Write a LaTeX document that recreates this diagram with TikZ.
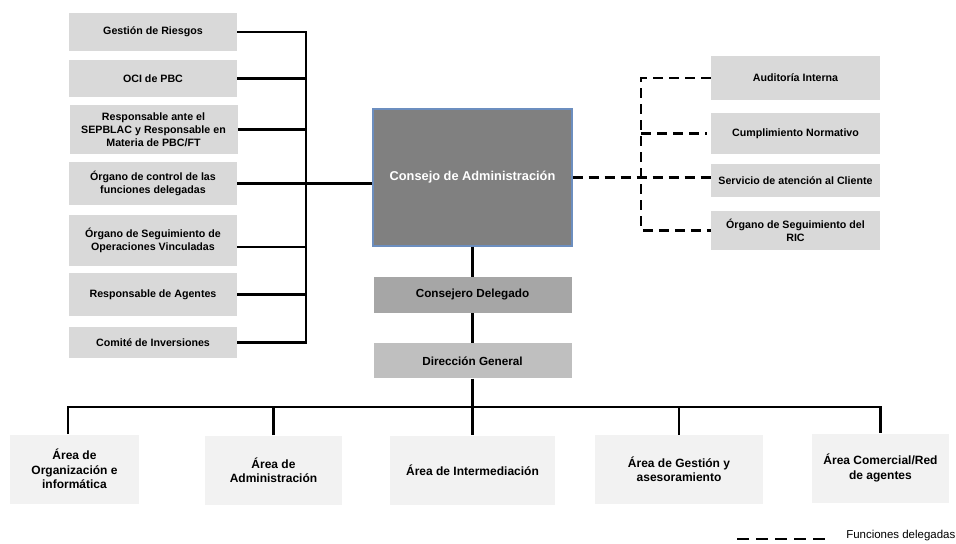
\documentclass[tikz,border=0pt]{standalone}
\usepackage{fontspec}
\setmainfont{Liberation Sans}
\usetikzlibrary{
    positioning,
    calc,
}

\definecolor{staffgray}{HTML}{D9D9D9}
\definecolor{boardgray}{HTML}{808080}
\definecolor{boardedge}{HTML}{6C8EBF}
\definecolor{ceogray}{HTML}{A6A6A6}
\definecolor{dggray}{HTML}{BFBFBF}
\definecolor{areagray}{HTML}{F2F2F2}

\begin{document}
\begin{tikzpicture}[
    x=0.75pt, y=-0.75pt,
    box/.style={inner sep=2pt, align=center},
    staff/.style={box, fill=staffgray, minimum width=126pt, font=\bfseries\fontsize{8}{9.6}\selectfont},
    deleg/.style={box, fill=staffgray, minimum width=126.75pt, font=\bfseries\fontsize{8}{9.6}\selectfont},
    board/.style={box, fill=boardgray, draw=boardedge, line width=0.8pt, text=white, minimum width=149.25pt, minimum height=102.75pt, font=\bfseries\fontsize{9.6}{11.5}\selectfont},
    ceo/.style={box, fill=ceogray, minimum width=148.5pt, minimum height=27pt, font=\bfseries\fontsize{8.8}{10.5}\selectfont},
    dg/.style={ceo, fill=dggray, minimum height=26.25pt},
    area/.style={box, fill=areagray, minimum height=51.75pt, font=\bfseries\fontsize{9}{10.8}\selectfont},
    link/.style={draw, line width=2pt},
    deleglink/.style={draw, line width=2pt, dash pattern=on 7.5pt off 4.5pt},
    legendline/.style={draw, line width=2pt, dash pattern=on 9pt off 5.25pt},
]

\useasboundingbox (0,0) rectangle (956,543);

\node[staff, minimum height=28.5pt] (riesgos) at (153,32) {Gestión de Riesgos};
\node[staff, minimum height=27.75pt] (oci) at (153,78.5) {OCI de PBC};
\node[staff, minimum height=36.75pt] (sepblac) at (153.5,129.5) {Responsable ante el\\SEPBLAC y Responsable en\\Materia de PBC/FT};
\node[staff, minimum height=32.25pt] (control) at (153,183.5) {Órgano de control de las\\funciones delegadas};
\node[staff, minimum height=38.25pt] (vinculadas) at (153,240.5) {Órgano de Seguimiento de\\Operaciones Vinculadas};
\node[staff, minimum height=32.25pt] (agentes) at (153,294.5) {Responsable de Agentes};
\node[staff, minimum height=23.25pt] (inversiones) at (153,342.5) {Comité de Inversiones};

\node[board] (consejo) at (472.5,177.5) {Consejo de Administración};
\node[ceo] (delegado) [below=22.5pt of consejo] {Consejero Delegado};
\node[dg] (direccion) [below=22.5pt of delegado] {Dirección General};

\node[deleg, minimum height=33pt] (auditoria) at (795.5,78) {Auditoría Interna};
\node[deleg, minimum height=30.75pt] (cumplimiento) at (795.5,133.5) {Cumplimiento Normativo};
\node[deleg, minimum height=24.75pt] (cliente) at (795.5,180.5) {Servicio de atención al Cliente};
\node[deleg, minimum height=29.25pt] (ric) at (795.5,230.5) {Órgano de Seguimiento del\\RIC};

\node[area, minimum width=96.75pt] (organizacion) at (74.5,469) {Área de\\Organización e\\informática};
\node[area, minimum width=102.75pt] (administracion) at (273.5,470) {Área de\\Administración};
\node[area, minimum width=123.75pt] (intermediacion) at (472.5,470) {Área de Intermediación};
\node[area, minimum width=126pt] (gestion) at (679,469.5) {Área de Gestión y\\asesoramiento};
\node[area, minimum width=102.75pt] (comercial) at (880.5,468) {Área Comercial/Red\\de agentes};

\node[inner sep=0pt, anchor=west, font=\fontsize{8.6}{10}\selectfont] (leyenda) at (846,536) {Funciones delegadas};

\coordinate (lbus) at (306,0);
\coordinate (rbus) at (641,0);
\coordinate (bbus) at (0,407);
\coordinate (ldash) at (737,539);

\draw[link] (riesgos.east) -| (inversiones.east -| lbus) -- (inversiones.east);
\foreach \n in {oci, sepblac, agentes} {
    \draw[link] (\n.east) -- (\n.east -| lbus);
}
\draw[link] ([yshift=-4.9pt]vinculadas.east) -- ([yshift=-4.9pt]vinculadas.east -| lbus);
\draw[link] (control.east) -- (control.east -| consejo.west);

\draw[link] (consejo) -- (delegado);
\draw[link] (delegado) -- (direccion);
\draw[link] (direccion.south) -- (intermediacion.north);

\draw[link] ([xshift=-4.9pt]organizacion.north) |- (comercial.north |- bbus) -- (comercial.north);
\foreach \n in {administracion, gestion} {
    \draw[link] (\n.north) -- (\n.north |- bbus);
}

\draw[deleglink] (auditoria.west) -| (ric.west -| rbus) -- (ric.west);
\draw[deleglink] (cumplimiento.west -| rbus) -- ([xshift=-3pt]cumplimiento.west);
\draw[deleglink] (consejo.east) -- (consejo.east -| cliente.west);

\draw[legendline] (ldash) -- (ldash -| leyenda.west) [shorten >=15.75pt];

\end{tikzpicture}
\end{document}
